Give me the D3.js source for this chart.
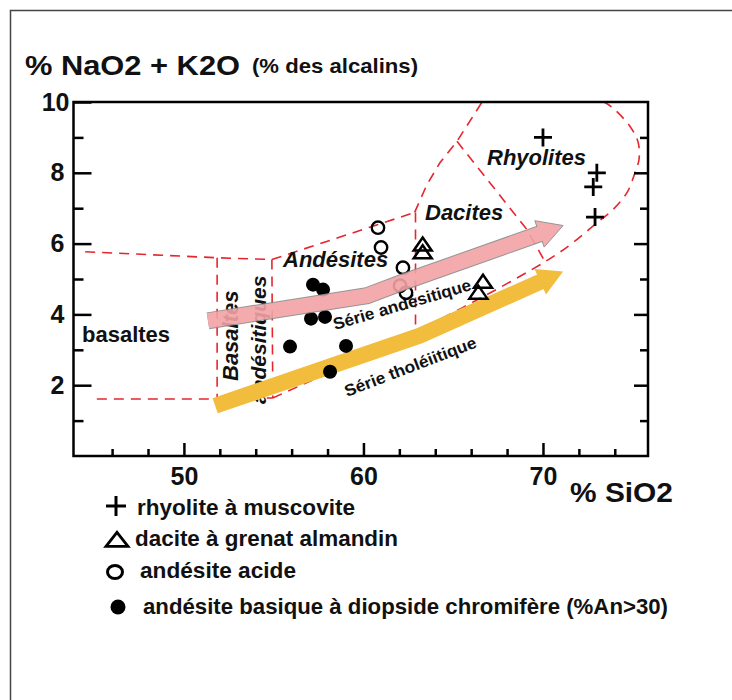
<!DOCTYPE html>
<html><head><meta charset="utf-8">
<script src="https://cdn.jsdelivr.net/npm/d3@7"></script>
<style>body{margin:0;background:#fff} svg{display:block}</style>
</head><body>
<script>
// ---------- data (SiO2 %, Na2O+K2O %) ----------
const rhyoliteMuscovite = [[70.0,9.0],[73.0,8.0],[72.8,7.6],[72.9,6.75]];
const daciteGrenat = [[63.3,5.97],[63.3,5.75],[66.66,4.92],[66.4,4.61]];
const andesiteAcide = [[60.81,6.45],[60.98,5.89],[62.2,5.32],[62.04,4.81],[62.37,4.61]];
const andesiteBasique = [[57.19,4.84],[57.75,4.70],[57.08,3.88],[57.86,3.93],[55.91,3.09],[59.03,3.11],[58.14,2.38]];

const xMajorTicks = [50,60,70];
const xMinorTicks = [46,48,52,54,56,58,62,64,66,68,72,74];
const yMajorTicks = [2,4,6,8,10];
const yMinorTicks = [1,3,5,7,9];

// field boundaries (dashed)
const basaltTop = [[44.5,5.77],[51.85,5.6],[54.9,5.55]];
const basaltBottom = [[45.15,1.61],[51.85,1.61],[54.95,1.64]];
const basAndLeft = [[51.85,5.6],[51.85,1.61]];
const basAndRight = [[54.9,5.55],[54.95,1.64]];
const andesiteTop = [[54.9,5.55],[62.85,6.88]];
const daciteLeft = [[62.85,6.88],[63.54,7.67],[64.27,8.29],[65.21,8.89],[66.61,10]];
const daciteRhyolite = [[65.21,8.89],[69.1,6.4],[70.1,5.5]];
const andesiteDacite = [[62.9,6.88],[62.9,3.52]];
const lowerLimit = [[54.95,1.64],[63.15,3.57],[70.12,5.49],[71.68,6.03],[73.01,6.59],[73.9,6.96],[74.68,7.44],[75.13,8.01],[75.35,8.38],[75.3,8.86],[74.85,9.31],[73.85,9.85],[73.4,10]];

// series trend arrows
const serieAndesitique = [[51.34,3.82],[60.2,4.53],[62.15,4.9],[71.12,6.51]];
const serieTholeiitique = [[51.74,1.42],[63.15,3.40],[71.12,5.21]];

const legendItems = ["rhyolite à muscovite","dacite à grenat almandin","andésite acide","andésite basique à diopside chromifère (%An>30)"];

// ---------- drawing ----------
const W=732,H=700;
const FONT='"Liberation Sans", Arial, Helvetica, sans-serif';
const svg=d3.select("body").append("svg").attr("width",W).attr("height",H)
  .style("font-family",FONT);

svg.append("rect").attr("x",10.5).attr("y",10.5).attr("width",W+20).attr("height",H+20)
  .attr("fill","none").attr("stroke","#444").attr("stroke-width",1.5);

const x=d3.scaleLinear().domain([43.85,75.85]).range([73.5,648]);
const y=d3.scaleLinear().domain([0,10]).range([456,102]);
const line=d3.line().x(d=>x(d[0])).y(d=>y(d[1]));

// dashed boundaries
const bnd=svg.append("g").attr("fill","none").attr("stroke","#e6262e")
  .attr("stroke-width",1.6).attr("stroke-dasharray","10,7");
[basaltTop,basaltBottom,basAndLeft,basAndRight,andesiteTop,daciteLeft,daciteRhyolite,andesiteDacite]
  .forEach(l=>bnd.append("path").attr("d",line(l)));
bnd.append("path").attr("d",line.curve(d3.curveCatmullRom)(lowerLimit));
line.curve(d3.curveLinear);

// field labels
const lab=svg.append("g").attr("font-weight","bold").attr("fill","#111");
lab.append("text").attr("x",82).attr("y",342).attr("font-size",22).text("basaltes");
lab.append("text").attr("x",283).attr("y",267).attr("font-size",22).attr("font-style","italic").text("Andésites");
lab.append("text").attr("x",425).attr("y",220).attr("font-size",22).attr("font-style","italic").text("Dacites");
lab.append("text").attr("x",487).attr("y",165).attr("font-size",22).attr("font-style","italic").text("Rhyolites");
lab.append("text").attr("transform","translate(238,381) rotate(-90)").attr("font-size",22).attr("font-style","italic").text("Basaltes");
lab.append("text").attr("transform","translate(266,404) rotate(-90)").attr("font-size",21).attr("font-style","italic").text("andésitiques");
lab.append("text").attr("transform","translate(335,330) rotate(-16.3)").attr("font-size",16.5).attr("textLength",143).attr("lengthAdjust","spacingAndGlyphs").text("Série andésitique");
lab.append("text").attr("transform","translate(347,397) rotate(-20.9)").attr("font-size",16.5).attr("textLength",140).attr("lengthAdjust","spacingAndGlyphs").text("Série tholéiitique");

// arrows
function arrow(g,pts,color,w,headLen,headHalf,outline){
  const p=pts.map(d=>[x(d[0]),y(d[1])]);
  const tip=p[p.length-1], prev=p[p.length-2];
  const dx=tip[0]-prev[0], dy=tip[1]-prev[1], L=Math.hypot(dx,dy);
  const ux=dx/L, uy=dy/L, nx=-uy, ny=ux;
  const base=[tip[0]-ux*headLen, tip[1]-uy*headLen];
  const shaft=p.slice(0,-1).concat([[base[0]+ux*2,base[1]+uy*2]]);
  const sl=d3.line();
  if(outline) g.append("path").attr("d",sl(shaft)).attr("fill","none").attr("stroke",outline).attr("stroke-width",w+2).attr("stroke-linejoin","miter");
  g.append("path").attr("d",sl([tip,[base[0]+nx*headHalf,base[1]+ny*headHalf],[base[0]-nx*headHalf,base[1]-ny*headHalf]])+"Z")
    .attr("fill",color).attr("stroke",outline||"none").attr("stroke-width",1);
  g.append("path").attr("d",sl(shaft)).attr("fill","none").attr("stroke",color).attr("stroke-width",w).attr("stroke-linejoin","miter");
}
arrow(svg.append("g"),serieTholeiitique,"#f2bc3d",16,25,14,null);

// markers
function crossPath(cx,cy,s){return `M${cx-s},${cy}H${cx+s}M${cx},${cy-s}V${cy+s}`;}
function triPath(cx,cy,hw,h){return `M${cx},${cy-h*0.55}L${cx+hw},${cy+h*0.45}L${cx-hw},${cy+h*0.45}Z`;}
const mk=svg.append("g");
mk.selectAll(".cr").data(rhyoliteMuscovite).join("path").attr("d",d=>crossPath(x(d[0]),y(d[1]),9))
  .attr("stroke","#000").attr("stroke-width",2.8).attr("fill","none");
mk.selectAll(".tr").data(daciteGrenat).join("path").attr("d",d=>triPath(x(d[0]),y(d[1]),9,13))
  .attr("stroke","#000").attr("stroke-width",2.5).attr("fill","none").attr("stroke-linejoin","miter");
mk.selectAll(".ci").data(andesiteAcide).join("circle").attr("cx",d=>x(d[0])).attr("cy",d=>y(d[1])).attr("r",6.2)
  .attr("stroke","#000").attr("stroke-width",2.4).attr("fill","none");
mk.selectAll(".do").data(andesiteBasique).join("circle").attr("cx",d=>x(d[0])).attr("cy",d=>y(d[1])).attr("r",7)
  .attr("fill","#000");

arrow(svg.append("g").attr("opacity",0.9),serieAndesitique,"#f2a3a5",15,25,14,"#8a8a8a");

// axes
function styleAxis(g){g.select(".domain").remove();g.selectAll("line").attr("stroke","#000").attr("stroke-width",2.5);
  g.selectAll("text").attr("font-size",25).attr("font-weight","bold").attr("fill","#111").style("font-family",FONT);}
svg.append("g").attr("transform","translate(0,456)").call(d3.axisBottom(x).tickValues(xMinorTicks).tickSize(-7).tickSizeOuter(0).tickFormat("")).call(styleAxis);
svg.append("g").attr("transform","translate(0,456)").call(d3.axisBottom(x).tickValues(xMajorTicks).tickSize(-13).tickSizeOuter(0).tickPadding(11).tickFormat(d3.format("d"))).call(styleAxis);
svg.append("g").attr("transform","translate(73.5,0)").call(d3.axisLeft(y).tickValues(yMinorTicks).tickSize(-10).tickSizeOuter(0).tickFormat("")).call(styleAxis);
const ly=svg.append("g").attr("transform","translate(73.5,0)").call(d3.axisLeft(y).tickValues(yMajorTicks).tickSize(-18).tickSizeOuter(0).tickPadding(9).tickFormat(d3.format("d"))).call(styleAxis);
ly.selectAll(".tick").filter(d=>d===10).select("text").attr("dx",5);
svg.append("g").attr("transform","translate(648,0)").call(d3.axisRight(y).tickValues(yMinorTicks).tickSize(-8).tickSizeOuter(0).tickFormat("")).call(styleAxis);
svg.append("g").attr("transform","translate(648,0)").call(d3.axisRight(y).tickValues([2,4,6,8]).tickSize(-14).tickSizeOuter(0).tickFormat("")).call(styleAxis);
svg.append("rect").attr("x",x(43.85)).attr("y",y(10)).attr("width",x(75.85)-x(43.85)).attr("height",y(0)-y(10))
  .attr("fill","none").attr("stroke","#000").attr("stroke-width",2.5);

// axis titles
svg.append("text").attr("x",25).attr("y",75).attr("font-size",27).attr("font-weight","bold").attr("fill","#111")
  .attr("textLength",215).attr("lengthAdjust","spacingAndGlyphs").text("% NaO2 + K2O");
svg.append("text").attr("x",252).attr("y",73).attr("font-size",21).attr("font-weight","bold").attr("fill","#111")
  .attr("textLength",166).attr("lengthAdjust","spacingAndGlyphs").text("(% des alcalins)");
svg.append("text").attr("x",570).attr("y",502).attr("font-size",28).attr("font-weight","bold").attr("fill","#111")
  .attr("textLength",103).attr("lengthAdjust","spacingAndGlyphs").text("% SiO2");

// legend
const lg=svg.append("g");
lg.append("path").attr("d",crossPath(116,506,10)).attr("stroke","#000").attr("stroke-width",3);
lg.append("path").attr("d",triPath(117,540,11,14)).attr("stroke","#000").attr("stroke-width",2.8).attr("fill","none");
lg.append("ellipse").attr("cx",115).attr("cy",572).attr("rx",7.5).attr("ry",6.5).attr("stroke","#000").attr("stroke-width",3).attr("fill","none");
lg.append("circle").attr("cx",118).attr("cy",607).attr("r",7.5).attr("fill","#000");
const lx=[137,135,140,143], lyb=[515,546,578,614], lw=[218,263,156,525];
lg.selectAll("text").data(legendItems).join("text").attr("x",(d,i)=>lx[i]).attr("y",(d,i)=>lyb[i])
  .attr("font-size",22).attr("font-weight","bold").attr("fill","#111")
  .attr("textLength",(d,i)=>lw[i]).attr("lengthAdjust","spacingAndGlyphs").text(d=>d);
</script>
</body></html>
